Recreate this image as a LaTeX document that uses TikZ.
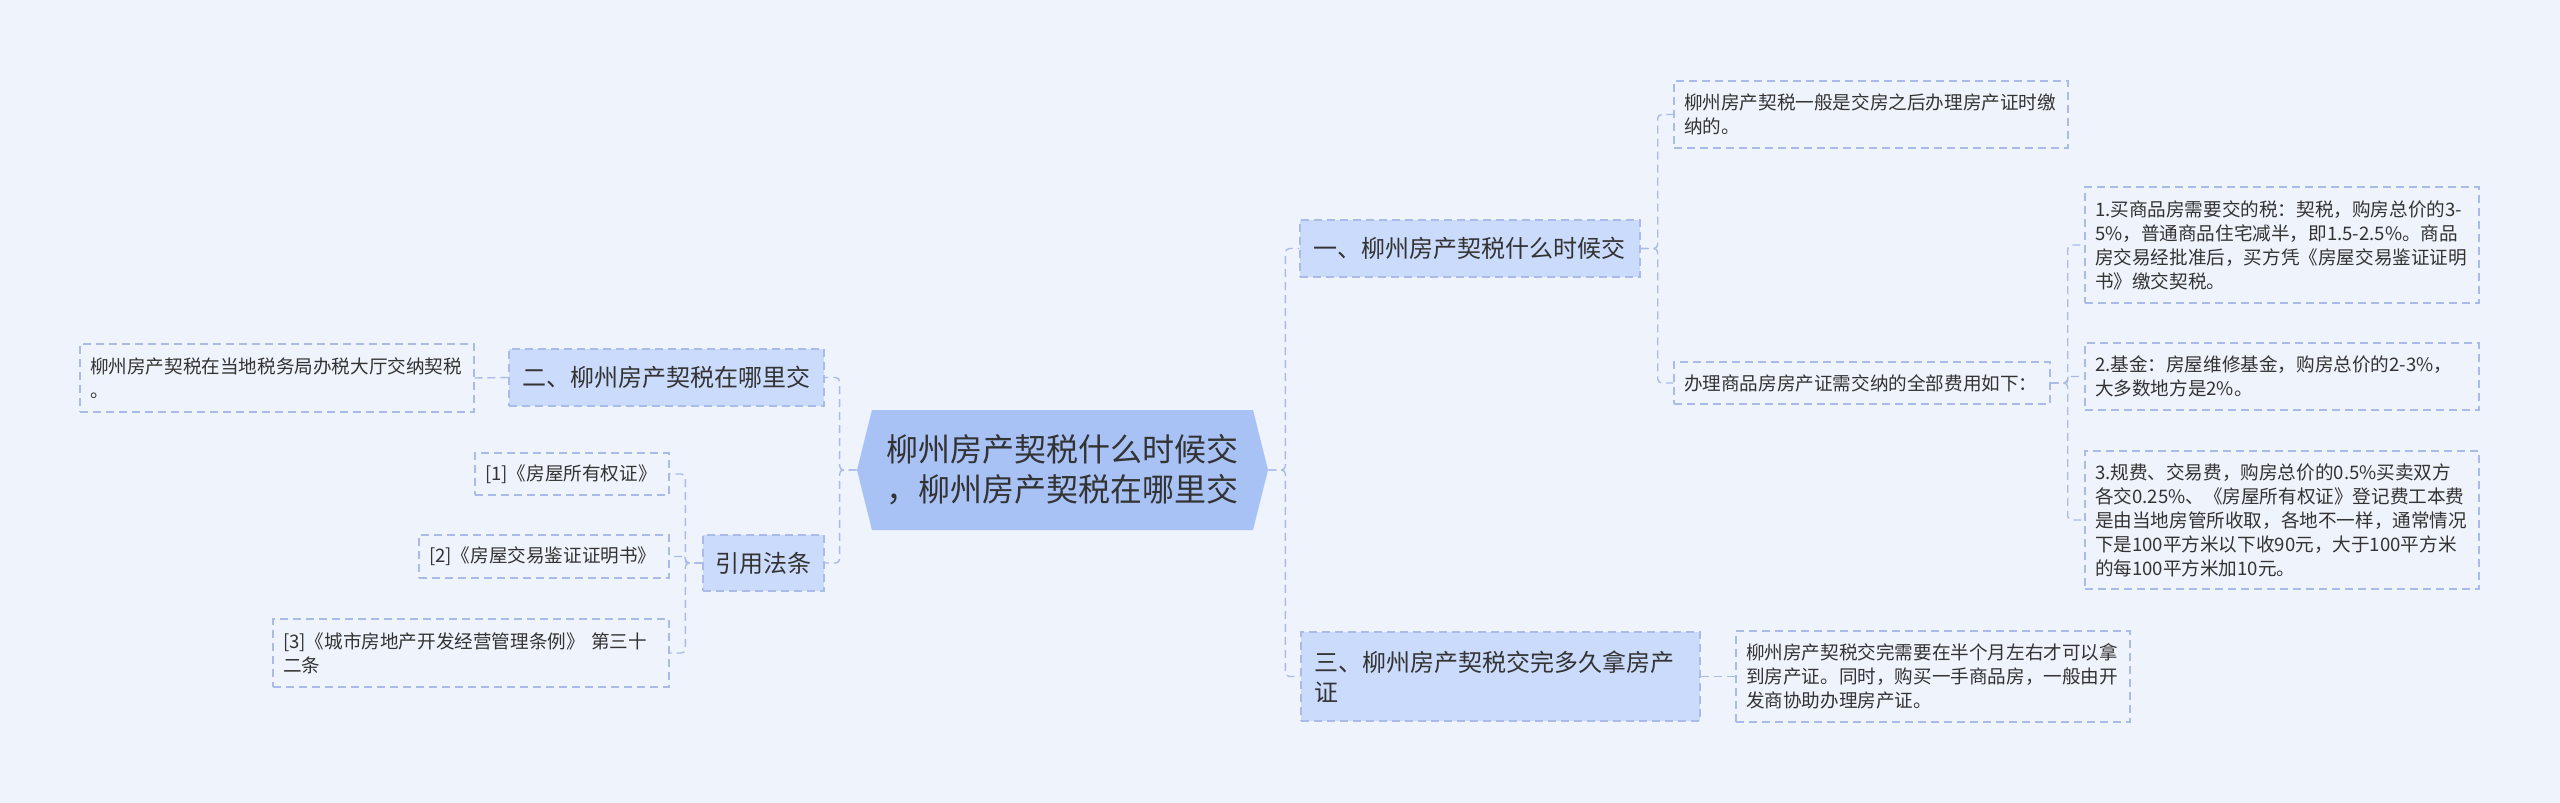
\documentclass[tikz,border=0pt]{standalone}
\usepackage{fontspec}
\setmainfont{Noto Sans CJK SC}
\usetikzlibrary{shapes.symbols}
\definecolor{bgc}{HTML}{EFF3FC}
\definecolor{edge}{HTML}{A9BBE6}
\definecolor{topicfill}{HTML}{CBDBFB}
\definecolor{mainfill}{HTML}{A8C2F6}
\definecolor{txt}{HTML}{333333}
\begin{document}
\begin{tikzpicture}[x=0.5pt,y=-0.5pt, every node/.style={text=txt,inner ysep=0pt},
    leaf/.style={draw=edge,dash pattern=on 4pt off 2.5pt,line width=0.7pt,inner xsep=5pt,align=left,font=\fontsize{9.3pt}{12pt}\selectfont},
    topic/.style={leaf,fill=topicfill,inner xsep=6.5pt,font=\fontsize{12pt}{15pt}\selectfont},
    link/.style={draw=edge,dash pattern=on 4pt off 2.5pt,line width=0.7pt,rounded corners=2pt}]
    \useasboundingbox[fill=bgc] (0,0) rectangle (2560,803);
    \node[shape=signal,signal to=west and east,signal pointer angle=152,fill=mainfill,minimum width=205.5pt,minimum height=60pt,inner sep=0pt,align=center,font=\fontsize{16pt}{20pt}\selectfont] (m) at (1062.5,470) {柳州房产契税什么时候交\\，柳州房产契税在哪里交};
    \node[topic,text width=157pt,minimum height=28.5pt] (a) at (1470,248.5) {一、柳州房产契税什么时候交};
    \node[topic,text width=186.5pt,minimum height=44.5pt] (c) at (1500.5,676.5) {三、柳州房产契税交完多久拿房产\\证};
    \node[topic,text width=144.5pt,minimum height=28.5pt] (b) at (666.5,377.5) {二、柳州房产契税在哪里交};
    \node[topic,text width=48.5pt,inner xsep=6pt,minimum height=28pt] (d) at (763.5,563) {引用法条};
    \node[leaf,text width=187pt,minimum height=33.5pt] (a1) at (1871,114.5) {柳州房产契税一般是交房之后办理房产证时缴\\纳的。};
    \node[leaf,text width=178pt,minimum height=21pt] (a2) at (1862,383) {办理商品房房产证需交纳的全部费用如下：};
    \node[leaf,text width=187pt,minimum height=58pt] (f1) at (2282,245) {1.买商品房需要交的税：契税，购房总价的3-\\5\%，普通商品住宅减半，即1.5-2.5\%。商品\\房交易经批准后，买方凭《房屋交易鉴证证明\\书》缴交契税。};
    \node[leaf,text width=187pt,minimum height=33.5pt] (f2) at (2282,376.5) {2.基金：房屋维修基金，购房总价的2-3\%，\\大多数地方是2\%。};
    \node[leaf,text width=187pt,minimum height=69pt] (f3) at (2282,520) {3.规费、交易费，购房总价的0.5\%买卖双方\\各交0.25\%、《房屋所有权证》登记费工本费\\是由当地房管所收取，各地不一样，通常情况\\下是100平方米以下收90元，大于100平方米\\的每100平方米加10元。};
    \node[leaf,text width=187pt,minimum height=45.5pt] (c1) at (1933,676.5) {柳州房产契税交完需要在半个月左右才可以拿\\到房产证。同时，购买一手商品房，一般由开\\发商协助办理房产证。};
    \node[leaf,text width=187pt,minimum height=34pt] (b1) at (277,378) {柳州房产契税在当地税务局办税大厅交纳契税\\。};
    \node[leaf,text width=87pt,minimum height=21pt] (d1) at (572,474) {[1]《房屋所有权证》};
    \node[leaf,text width=115pt,minimum height=21.5pt] (d2) at (544,556.5) {[2]《房屋交易鉴证证明书》};
    \node[leaf,text width=188pt,minimum height=34pt] (d3) at (471,653) {[3]《城市房地产开发经营管理条例》~第三十\\二条};
    \draw[link] (m.east) -- ++(17,0) |- (a.west);
    \draw[link] (m.east) -- ++(17,0) |- (c.west);
    \draw[link] (a.east) -- ++(17,0) |- (a1.west);
    \draw[link] (a.east) -- ++(17,0) |- (a2.west);
    \draw[link] (a2.east) -- ++(17,0) |- (f1.west);
    \draw[link] (a2.east) -- ++(17,0) |- (f2.west);
    \draw[link] (a2.east) -- ++(17,0) |- (f3.west);
    \draw[link] (c.east) -- (c1.west);
    \draw[link] (m.west) -- ++(-17,0) |- (b.east);
    \draw[link] (m.west) -- ++(-17,0) |- (d.east);
    \draw[link] (b.west) -- (b1.east);
    \draw[link] (d.west) -- ++(-17,0) |- (d1.east);
    \draw[link] (d.west) -- ++(-17,0) |- (d2.east);
    \draw[link] (d.west) -- ++(-17,0) |- (d3.east);
\end{tikzpicture}
\end{document}
